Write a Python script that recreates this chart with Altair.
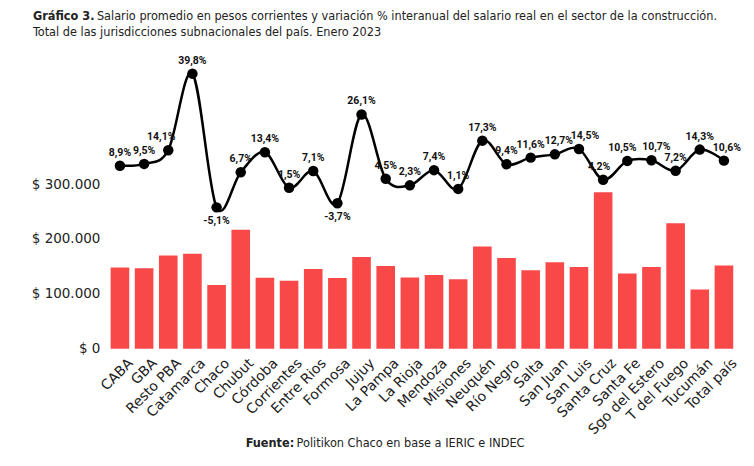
import altair as alt
import pandas as pd

provincias = ["CABA", "GBA", "Resto PBA", "Catamarca", "Chaco", "Chubut", "Córdoba",
              "Corrientes", "Entre Rios", "Formosa", "Jujuy", "La Pampa", "La Rioja",
              "Mendoza", "Misiones", "Neuquén", "Río Negro", "Salta", "San Juan",
              "San Luis", "Santa Cruz", "Santa Fe", "Sgo del Estero", "T del Fuego",
              "Tucumán", "Total país"]
salario = [148000, 146500, 170000, 173000, 116000, 217000, 129500, 124000, 145500,
           129000, 167000, 151000, 130000, 134500, 126500, 186500, 165500, 143000,
           157500, 149000, 285000, 137000, 149000, 228500, 108000, 151500]
variacion = [8.9, 9.5, 14.1, 39.8, -5.1, 6.7, 13.4, 1.5, 7.1, -3.7, 26.1, 4.5, 2.3,
             7.4, 1.1, 17.3, 9.4, 11.6, 12.7, 14.5, 4.2, 10.5, 10.7, 7.2, 14.3, 10.6]
ticks_y = [0, 100000, 200000, 300000]

titulo_neg = ["Gráfico 3."]
titulo_l1 = ["Salario promedio en pesos corrientes y variación % interanual del salario real en el sector de la construcción."]
titulo_l2 = ["Total de las jurisdicciones subnacionales del país. Enero 2023"]
fuente_neg = ["Fuente:"]
fuente_txt = ["Politikon Chaco en base a IERIC e INDEC"]

df = pd.DataFrame({"prov": provincias, "salario": salario, "variacion": variacion})
df["label"] = [f"{v:.1f}".replace(".", ",") + "%" for v in variacion]

FONT = "DejaVu Sans"
LFONT = "Roboto"
TFONT = "Liberation Sans Narrow, DejaVu Sans Condensed, sans-serif"

x = alt.X("prov:N", sort=provincias,
          scale=alt.Scale(paddingInner=0.23, paddingOuter=0.115),
          axis=alt.Axis(title=None, labelAngle=-45, ticks=False, domain=False,
                        labelFont=FONT, labelFontSize=14, labelColor="#222",
                        labelPadding=7, labelOffset=6))

bars = alt.Chart(df).mark_bar(color="#F94848").encode(
    x=x,
    y=alt.Y("salario:Q", scale=alt.Scale(domain=[0, 520000], nice=False),
            axis=alt.Axis(values=ticks_y, title=None, grid=False, ticks=False, domain=False,
                          labelFont=FONT, labelFontSize=13.5, labelColor="#222", labelPadding=8,
                          labelExpr="datum.value == 0 ? '$ 0' : '$ ' + format(datum.value/1000, 'd') + '.000'"))
)

yv = alt.Y("variacion:Q", scale=alt.Scale(domain=[-52.6, 43.3], nice=False, zero=False), axis=None)

line = alt.Chart(df).mark_line(color="black", strokeWidth=2.5, interpolate="cardinal").encode(x=x, y=yv)
pts = alt.Chart(df).mark_point(filled=True, color="black", size=110, opacity=1).encode(x=x, y=yv)

# small horizontal nudges of some value labels (style), as in the original
label_shift = {"Resto PBA": -7, "San Juan": 4, "San Luis": 6,
               "Santa Cruz": -4, "Santa Fe": -5, "Sgo del Estero": 5, "Total país": 3}
label_layers = []
for shift in sorted(set(label_shift.values()) | {0}):
    names = [p for p in provincias if label_shift.get(p, 0) == shift]
    for cond, dy in (("datum.variacion >= 0", -13), ("datum.variacion < 0", 14)):
        label_layers.append(
            alt.Chart(df).transform_filter(alt.FieldOneOfPredicate(field="prov", oneOf=names))
            .transform_filter(cond)
            .mark_text(dx=shift, dy=dy, font=LFONT, fontWeight="bold", fontSize=10.5, color="#111")
            .encode(x=x, y=yv, text="label:N")
        )


def txt(lines, xv, yv_, bold=False, size=12.6):
    return alt.Chart(pd.DataFrame({"t": lines})).mark_text(
        align="left", baseline="middle", font=TFONT, fontSize=size,
        fontWeight="bold" if bold else "normal", color="#222"
    ).encode(x=alt.value(xv), y=alt.value(yv_), text="t:N")


t1 = txt(titulo_neg, -75, -47, bold=True)
t2 = txt(titulo_l1, -11, -47)
t3 = txt(titulo_l2, -75, -31)
f1 = txt(fuente_neg, 138, 380, bold=True)
f2 = txt(fuente_txt, 189, 380)

chart = alt.layer(bars, line, pts, *label_layers, t1, t2, t3, f1, f2).resolve_scale(
    y="independent"
).properties(
    width=629, height=286,
    autosize=alt.AutoSizeParams(type="none"),
    padding={"left": 100, "top": 55, "right": 10, "bottom": 100},
    background="white",
).configure_view(stroke=None)

chart.save("out.html", embed_options={"renderer": "svg", "actions": False})
